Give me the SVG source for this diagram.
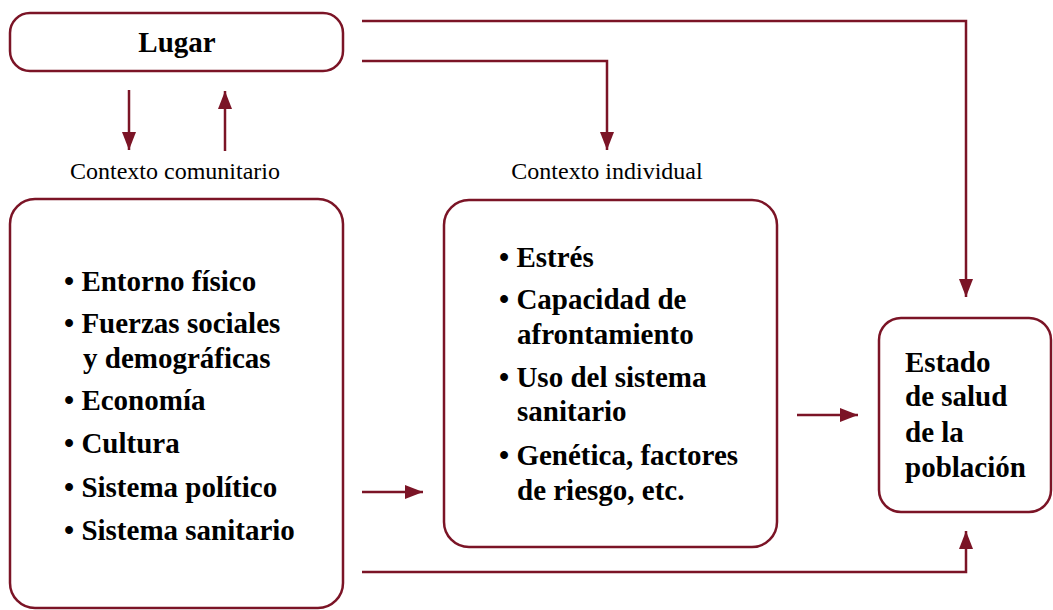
<svg xmlns="http://www.w3.org/2000/svg" width="1053" height="610" viewBox="0 0 1053 610">
<style>
.box{fill:#fff;stroke:#7b1426;stroke-width:2.5}
.ln{fill:none;stroke:#7b1426;stroke-width:2.5}
.b{font-family:"Liberation Serif","Times New Roman",serif;font-weight:bold;font-size:29px;fill:#000}
.r{font-family:"Liberation Serif","Times New Roman",serif;font-size:24px;fill:#000}
</style>
<defs>
<marker id="ah" markerUnits="userSpaceOnUse" markerWidth="20" markerHeight="14" refX="18" refY="7" orient="auto">
<path d="M0,0 L18,7 L0,14 Z" fill="#7b1426"/>
</marker>
</defs>
<rect width="1053" height="610" fill="#fff"/>
<g id="connectors">
<line class="ln" x1="129" y1="90" x2="129" y2="150" marker-end="url(#ah)"/>
<line class="ln" x1="225" y1="151" x2="225" y2="91" marker-end="url(#ah)"/>
<polyline class="ln" points="362,21 966,21 966,297" marker-end="url(#ah)"/>
<polyline class="ln" points="362,61 607,61 607,150" marker-end="url(#ah)"/>
<line class="ln" x1="362" y1="492" x2="423" y2="492" marker-end="url(#ah)"/>
<line class="ln" x1="797" y1="415" x2="858" y2="415" marker-end="url(#ah)"/>
<polyline class="ln" points="362,572 966,572 966,531" marker-end="url(#ah)"/>
</g>
<g id="lugar">
<rect class="box" x="10" y="13" width="333" height="58" rx="20"/>
<text class="b" x="177" y="52" text-anchor="middle">Lugar</text>
</g>
<g id="label-comunitario">
<text class="r" x="175" y="179" text-anchor="middle">Contexto comunitario</text>
</g>
<g id="label-individual">
<text class="r" x="607" y="179" text-anchor="middle">Contexto individual</text>
</g>
<g id="comunitario">
<rect class="box" x="10" y="199" width="333" height="409" rx="25"/>
<text class="b" x="64" y="291">• Entorno físico</text>
<text class="b" x="64" y="333">• Fuerzas sociales</text>
<text class="b" x="83" y="368">y demográficas</text>
<text class="b" x="64" y="410">• Economía</text>
<text class="b" x="64" y="453">• Cultura</text>
<text class="b" x="64" y="497">• Sistema político</text>
<text class="b" x="64" y="540">• Sistema sanitario</text>
</g>
<g id="individual">
<rect class="box" x="444" y="200" width="333" height="347" rx="25"/>
<text class="b" x="499" y="267">• Estrés</text>
<text class="b" x="499" y="309">• Capacidad de</text>
<text class="b" x="517" y="344">afrontamiento</text>
<text class="b" x="499" y="387">• Uso del sistema</text>
<text class="b" x="517" y="421">sanitario</text>
<text class="b" x="499" y="465">• Genética, factores</text>
<text class="b" x="517" y="500">de riesgo, etc.</text>
</g>
<g id="estado">
<rect class="box" x="879" y="318" width="172" height="194" rx="22"/>
<text class="b" x="905" y="372">Estado</text>
<text class="b" x="905" y="406">de salud</text>
<text class="b" x="905" y="442">de la</text>
<text class="b" x="905" y="477">población</text>
</g>
</svg>
